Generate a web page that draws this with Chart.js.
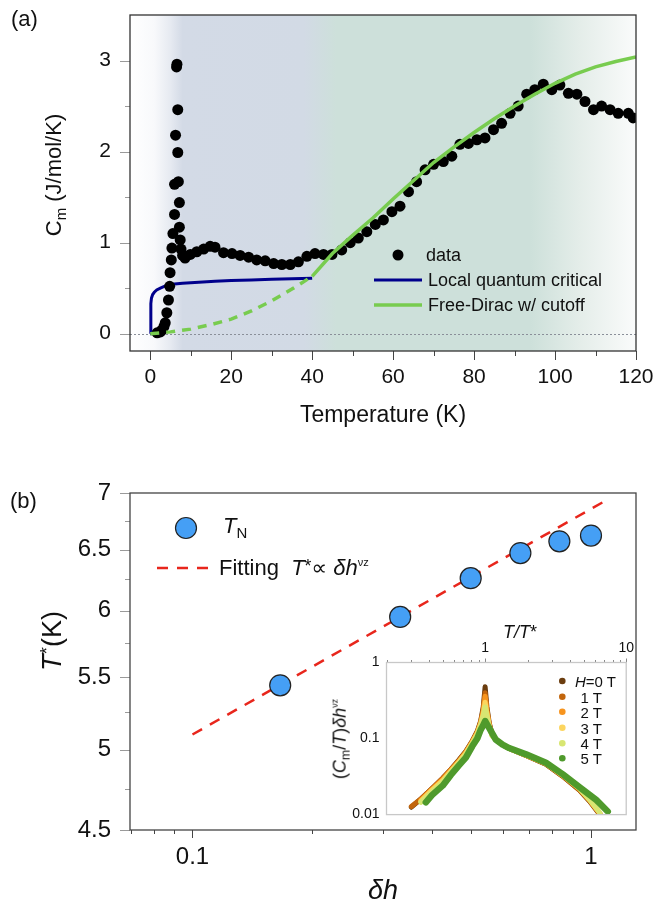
<!DOCTYPE html>
<html>
<head>
<meta charset="utf-8">
<script src="https://cdn.jsdelivr.net/npm/chart.js@4.4.1/dist/chart.umd.min.js"></script>
<style>
  body { margin: 0; background: #fff; width: 666px; height: 901px; position: relative; overflow: hidden;
         font-family: 'Liberation Sans', Arial, 'DejaVu Sans', sans-serif; color: #111; }
  canvas { position: absolute; }
  .t { position: absolute; white-space: nowrap; line-height: 1; }
  .c { transform: translate(-50%, -50%); }
  .l { transform: translateY(-50%); }
  .rot { transform: translate(-50%, -50%) rotate(-90deg); }
  .sub { font-size: 0.68em; vertical-align: -0.28em; }
  .sup { font-size: 0.5em; vertical-align: 0.9em; }
</style>
</head>
<body>
<canvas id="ca" width="666" height="430" style="left:0;top:0;width:666px;height:430px"></canvas>
<canvas id="cb" width="666" height="461" style="left:0;top:440px;width:666px;height:461px"></canvas>
<canvas id="ci" width="320" height="230" style="left:320px;top:600px;width:320px;height:230px"></canvas>

<!-- panel labels, axis titles, legend texts -->
<div class="t" style="left:11px;top:8px;font-size:22px">(a)</div>
<div class="t rot" style="left:56px;top:175px;font-size:22px">C<span class="sub">m</span> (J/mol/K)</div>
<div class="t c" style="left:383px;top:414px;font-size:23px">Temperature (K)</div>
<div class="t l" style="left:426px;top:255px;font-size:18px">data</div>
<div class="t l" style="left:428px;top:280px;font-size:18px">Local quantum critical</div>
<div class="t l" style="left:428px;top:305px;font-size:18px">Free-Dirac w/ cutoff</div>

<div class="t" style="left:10px;top:490px;font-size:22px">(b)</div>
<div class="t rot" style="left:52px;top:641px;font-size:27px"><i>T</i><span class="sup" style="font-size:0.7em;vertical-align:0.45em">*</span>(K)</div>
<div class="t c" style="left:383px;top:890px;font-size:27px"><i>δh</i></div>
<div class="t l" style="left:223px;top:528px;font-size:22px"><i>T</i><span class="sub">N</span></div>
<div class="t l" style="left:219px;top:568px;font-size:22px">Fitting&nbsp;&nbsp;<i>T</i><span style="font-size:0.8em;vertical-align:0.2em">*</span>∝ <i>δh</i><span class="sup">νz</span></div>

<div class="t c" style="left:520px;top:632px;font-size:18px"><i>T/T</i>*</div>
<div class="t rot" style="left:341px;top:739px;font-size:18px">(<i>C</i><span class="sub">m</span>/<i>T</i>)<i>δh</i><span class="sup">νz</span></div>
<div class="t l" style="left:575px;top:681px;font-size:15px"><i>H</i>=0 T</div>
<div class="t l" style="right:64px;top:697px;font-size:15px">1 T</div>
<div class="t l" style="right:64px;top:712px;font-size:15px">2 T</div>
<div class="t l" style="right:64px;top:728px;font-size:15px">3 T</div>
<div class="t l" style="right:64px;top:743px;font-size:15px">4 T</div>
<div class="t l" style="right:64px;top:758px;font-size:15px">5 T</div>

<script>
// ---------- panel (a): magnetic specific heat ----------
const tempK = [1.7, 2.5, 2.9, 3.4, 3.7, 4.1, 4.5, 4.8, 4.9, 5.2, 5.35, 5.6, 6.0, 6.0, 6.25, 6.5, 6.6,
  6.8, 6.8, 6.95, 7.2, 7.2, 7.4, 7.6, 8.0, 8.6, 9.9, 11.5, 13.2, 14.8, 16.0, 18.1, 20.2, 22.2, 24.3,
  26.3, 28.4, 30.5, 32.5, 34.6, 36.6, 38.7, 40.7, 42.8, 44.9, 47.3, 49.4, 51.4, 53.5, 55.6, 57.6,
  59.7, 61.7, 63.8, 65.8, 67.9, 70.0, 72.4, 74.5, 76.5, 78.6, 80.7, 82.7, 84.8, 86.8, 88.9, 90.9,
  93.0, 95.0, 97.1, 99.2, 101.2, 103.3, 105.4, 107.4, 109.5, 111.5, 113.6, 115.6, 118.1, 119.3];
const cmData = [0.01, 0.02, 0.04, 0.08, 0.12, 0.23, 0.37, 0.52, 0.67, 0.81, 0.94, 1.10, 1.31, 1.64,
  2.18, 2.93, 2.96, 2.46, 1.99, 1.67, 1.44, 1.17, 1.03, 0.93, 0.86, 0.83, 0.87, 0.90, 0.93, 0.96,
  0.95, 0.89, 0.88, 0.86, 0.84, 0.81, 0.80, 0.77, 0.76, 0.76, 0.79, 0.85, 0.88, 0.87, 0.87, 0.92,
  1.00, 1.05, 1.12, 1.20, 1.25, 1.34, 1.40, 1.56, 1.67, 1.80, 1.86, 1.89, 1.95, 2.08, 2.09, 2.13,
  2.15, 2.24, 2.31, 2.42, 2.50, 2.63, 2.68, 2.74, 2.68, 2.73, 2.64, 2.63, 2.55, 2.46, 2.50, 2.46,
  2.42, 2.42, 2.37];

const lqcT = [0, 0.15, 0.3, 0.6, 1, 1.6, 2.5, 4, 6, 8, 12, 16, 20, 25, 30, 35, 40];
const lqcC = [0, 0.33, 0.39, 0.43, 0.455, 0.48, 0.50, 0.53, 0.545, 0.555, 0.565, 0.575, 0.585, 0.59, 0.597, 0.603, 0.61];

const diracLowT = [0, 5, 10, 15, 20, 25, 30, 35, 40];
const diracLowC = [0, 0.02, 0.05, 0.10, 0.16, 0.25, 0.36, 0.49, 0.63];
const diracT = [40, 45, 50, 55, 60, 65, 70, 75, 80, 85, 90, 95, 100, 105, 110, 115, 120];
const diracC = [0.63, 0.88, 1.08, 1.27, 1.48, 1.68, 1.88, 2.05, 2.21, 2.36, 2.50, 2.63, 2.75, 2.85, 2.93, 2.99, 3.04];

const aXTicks = [0, 20, 40, 60, 80, 100, 120];
const aXMinor = [10, 30, 50, 70, 90, 110];
const aYTicks = [0, 1, 2, 3];
const aYMinor = [0.5, 1.5, 2.5];

// ---------- panel (b): T* vs delta h ----------
const deltaH = [0.166, 0.332, 0.499, 0.665, 0.833, 1.0];
const tStar = [5.44, 5.95, 6.26, 6.47, 6.57, 6.62];
const fitDh = [0.1, 1.1];
const fitT = [5.10, 6.94];

const bXTicks = [0.1, 1];
const bXMinor = [0.07, 0.08, 0.09, 0.2, 0.3, 0.4, 0.5, 0.6, 0.7, 0.8, 0.9];
const bYTicks = [4.5, 5, 5.5, 6, 6.5, 7];
const bYMinor = [4.75, 5.25, 5.75, 6.25, 6.75];

// ---------- inset: scaled C/T vs T/T* ----------
const insetX = [0.30, 0.35, 0.42, 0.50, 0.57, 0.65, 0.73, 0.81, 0.88, 0.93, 0.97, 1.0, 1.03, 1.07,
  1.12, 1.19, 1.33, 1.48, 1.95, 2.7, 3.54, 4.66, 5.5, 6.5];
const h0T = [0.0125, 0.016, 0.022, 0.030, 0.039, 0.052, 0.068, 0.093, 0.125, 0.17, 0.26, 0.48, 0.26,
  0.16, 0.115, 0.097, 0.083, 0.074, 0.060, 0.046, 0.032, 0.021, 0.0150, 0.0100];
const h1T = [0.0128, 0.016, 0.022, 0.030, 0.039, 0.051, 0.067, 0.091, 0.122, 0.165, 0.24, 0.40, 0.24,
  0.155, 0.113, 0.097, 0.083, 0.074, 0.060, 0.046, 0.032, 0.021, 0.0152, 0.0102];
const h2T = [null, 0.0155, 0.0215, 0.029, 0.038, 0.050, 0.066, 0.090, 0.12, 0.16, 0.23, 0.36, 0.23,
  0.15, 0.112, 0.097, 0.083, 0.074, 0.060, 0.047, 0.033, 0.022, 0.0155, 0.0103];
const h3T = [null, 0.0150, 0.021, 0.028, 0.037, 0.049, 0.064, 0.088, 0.117, 0.155, 0.21, 0.30, 0.21,
  0.145, 0.11, 0.097, 0.083, 0.074, 0.061, 0.047, 0.033, 0.022, 0.0157, 0.0105];
const h4T = [null, 0.0145, 0.020, 0.027, 0.036, 0.047, 0.062, 0.085, 0.113, 0.15, 0.20, 0.26, 0.20,
  0.14, 0.108, 0.097, 0.083, 0.074, 0.061, 0.047, 0.033, 0.022, 0.0158, 0.0106];
const h5X = [0.38, 0.42, 0.50, 0.57, 0.65, 0.73, 0.81, 0.88, 0.93, 0.97, 1.0, 1.03, 1.07, 1.19, 1.33,
  1.48, 1.95, 2.7, 3.54, 4.66, 6.13, 7.4];
const h5T = [0.0145, 0.018, 0.024, 0.033, 0.044, 0.056, 0.079, 0.10, 0.13, 0.15, 0.17, 0.155, 0.137,
  0.097, 0.083, 0.075, 0.062, 0.048, 0.034, 0.023, 0.0156, 0.011];

const insetXTicks = [1, 10];
const insetXMinor = [0.2, 0.3, 0.4, 0.5, 0.6, 0.7, 0.8, 0.9, 2, 3, 4, 5, 6, 7, 8, 9];
const insetYTicks = [0.01, 0.1, 1];
const fieldColors = ['#6b3d0f', '#c2650c', '#f7941e', '#fcd55f', '#d8e672', '#4f9a2c'];

// ---------- helpers ----------
const FONT = "'Liberation Sans', Arial, 'DejaVu Sans', sans-serif";
Chart.defaults.font.family = FONT;
Chart.defaults.color = '#111';

const xy = (xs, ys) => xs.map((x, i) => ({ x, y: ys[i] }));
const setTicks = vals => s => { s.ticks = vals.map(v => ({ value: v })); };
// invisible tick marks: they only push the labels away from the axis
const hiddenTicks = len => ({ display: true, drawOnChartArea: false, drawTicks: true, tickLength: len,
  tickColor: 'rgba(0,0,0,0)' });

// draws outside tick marks + a frame around the plot area
function axisDecor(id, specs, frameColor) {
  return {
    id,
    afterDraw(chart) {
      const { ctx, chartArea: a, scales } = chart;
      ctx.save();
      ctx.lineWidth = 1;
      specs.forEach(t => {
        const s = scales[t.axis];
        ctx.strokeStyle = t.color;
        t.values.forEach(v => {
          const p = Math.round(s.getPixelForValue(v)) + 0.5;
          ctx.beginPath();
          if (t.side === 'bottom') { ctx.moveTo(p, a.bottom); ctx.lineTo(p, a.bottom + t.len); }
          else if (t.side === 'top') { ctx.moveTo(p, a.top); ctx.lineTo(p, a.top - t.len); }
          else { ctx.moveTo(a.left, p); ctx.lineTo(a.left - t.len, p); }
          ctx.stroke();
        });
      });
      ctx.strokeStyle = frameColor;
      ctx.lineWidth = 1.3;
      ctx.strokeRect(a.left, a.top, a.right - a.left, a.bottom - a.top);
      ctx.restore();
    }
  };
}

// ---------- chart (a) ----------
const panelA = {
  id: 'panelA',
  beforeDatasetsDraw(chart) {
    const { ctx, chartArea: a, scales: { x, y } } = chart;
    ctx.save();
    const g = ctx.createLinearGradient(a.left, 0, a.right, 0);
    [[-5, '#ffffff'], [1, '#f8f9fb'], [5, '#e6eaf1'], [8, '#d3dae6'], [38, '#d2dae5'],
     [46, '#cde0da'], [94, '#cde0da'], [106, '#e4ede9'], [120, '#fafbfb']]
      .forEach(([t, c]) => g.addColorStop((x.getPixelForValue(t) - a.left) / (a.right - a.left), c));
    ctx.fillStyle = g;
    ctx.fillRect(a.left, a.top, a.right - a.left, a.bottom - a.top);
    // dotted zero line
    const y0 = Math.round(y.getPixelForValue(0)) + 0.5;
    ctx.strokeStyle = '#8a8f99';
    ctx.lineWidth = 1;
    ctx.setLineDash([2, 2]);
    ctx.beginPath(); ctx.moveTo(a.left, y0); ctx.lineTo(a.right, y0); ctx.stroke();
    ctx.restore();
  },
  afterDraw(chart) {
    const ctx = chart.ctx;
    ctx.save();
    ctx.fillStyle = '#000';
    ctx.beginPath(); ctx.arc(398, 255, 5.5, 0, Math.PI * 2); ctx.fill();
    ctx.lineWidth = 3;
    ctx.strokeStyle = '#00008c';
    ctx.beginPath(); ctx.moveTo(374, 280); ctx.lineTo(422, 280); ctx.stroke();
    ctx.lineWidth = 3.5;
    ctx.strokeStyle = '#78cc4f';
    ctx.beginPath(); ctx.moveTo(374, 305); ctx.lineTo(422, 305); ctx.stroke();
    ctx.restore();
  }
};

new Chart(document.getElementById('ca'), {
  type: 'scatter',
  data: {
    datasets: [
      { label: 'Free-Dirac w/ cutoff', data: xy(diracT, diracC), showLine: true, borderColor: '#78cc4f',
        borderWidth: 3.5, pointRadius: 0, order: 0 },
      { label: 'Free-Dirac (below 40 K)', data: xy(diracLowT, diracLowC), showLine: true, borderColor: '#78cc4f',
        borderWidth: 3.5, borderDash: [9, 7], pointRadius: 0, order: 1 },
      { label: 'data', data: xy(tempK, cmData), pointRadius: 5.5, pointBackgroundColor: '#000',
        pointBorderWidth: 0, order: 2 },
      { label: 'Local quantum critical', data: xy(lqcT, lqcC), showLine: true, borderColor: '#00008c',
        borderWidth: 3, pointRadius: 0, order: 3 }
    ]
  },
  options: {
    responsive: false,
    animation: false,
    events: [],
    layout: { padding: { left: 0, top: 15, right: 30, bottom: 0 } },
    plugins: { legend: { display: false }, tooltip: { enabled: false } },
    scales: {
      x: {
        type: 'linear', min: -5, max: 120,
        afterFit: s => { s.height = 79; },
        afterBuildTicks: setTicks(aXTicks),
        grid: hiddenTicks(10), border: { display: false },
        ticks: { padding: 4, font: { size: 21 }, color: '#111', maxRotation: 0, autoSkip: false }
      },
      y: {
        type: 'linear', min: -0.19, max: 3.5,
        afterFit: s => { s.width = 130; },
        afterBuildTicks: setTicks(aYTicks),
        grid: hiddenTicks(17), border: { display: false },
        ticks: { padding: 2, font: { size: 21 }, color: '#111', autoSkip: false }
      }
    }
  },
  plugins: [panelA, axisDecor('decorA', [
    { axis: 'x', side: 'bottom', values: aXTicks, len: 9, color: '#444' },
    { axis: 'x', side: 'bottom', values: aXMinor, len: 5, color: '#444' },
    { axis: 'y', side: 'left', values: aYTicks, len: 10, color: '#9a9a9a' },
    { axis: 'y', side: 'left', values: aYMinor, len: 5, color: '#9a9a9a' }
  ], '#333')]
});

// ---------- chart (b) ----------
const legendB = {
  id: 'legendB',
  afterDraw(chart) {
    const ctx = chart.ctx;
    ctx.save();
    ctx.fillStyle = '#459ff5';
    ctx.strokeStyle = '#222';
    ctx.lineWidth = 1.2;
    ctx.beginPath(); ctx.arc(186, 88, 10.5, 0, Math.PI * 2); ctx.fill(); ctx.stroke();
    ctx.strokeStyle = '#e8261c';
    ctx.lineWidth = 2.5;
    ctx.setLineDash([11, 9]);
    ctx.beginPath(); ctx.moveTo(157, 128); ctx.lineTo(214, 128); ctx.stroke();
    ctx.restore();
  }
};

new Chart(document.getElementById('cb'), {
  type: 'scatter',
  data: {
    datasets: [
      { label: 'T_N', data: xy(deltaH, tStar), pointRadius: 10.5, pointBackgroundColor: '#459ff5',
        pointBorderColor: '#222', pointBorderWidth: 1.2, order: 0 },
      { label: 'Fitting', data: xy(fitDh, fitT), showLine: true, borderColor: '#e8261c', borderWidth: 2.5,
        borderDash: [11, 9], pointRadius: 0, order: 1 }
    ]
  },
  options: {
    responsive: false,
    animation: false,
    events: [],
    layout: { padding: { left: 0, top: 53, right: 30, bottom: 0 } },
    plugins: { legend: { display: false }, tooltip: { enabled: false } },
    scales: {
      x: {
        type: 'logarithmic', min: 0.0697, max: 1.297,
        afterFit: s => { s.height = 71; },
        afterBuildTicks: setTicks(bXTicks),
        grid: hiddenTicks(10), border: { display: false },
        ticks: { padding: 3, font: { size: 24 }, color: '#111', maxRotation: 0, autoSkip: false,
                 callback: v => String(v) }
      },
      y: {
        type: 'logarithmic', min: 4.5, max: 7,
        afterFit: s => { s.width = 130; },
        afterBuildTicks: setTicks(bYTicks),
        grid: hiddenTicks(17), border: { display: false },
        ticks: { padding: 2, font: { size: 24 }, color: '#111', autoSkip: false, callback: v => String(v) }
      }
    }
  },
  plugins: [legendB, axisDecor('decorB', [
    { axis: 'x', side: 'bottom', values: bXTicks, len: 8, color: '#444' },
    { axis: 'x', side: 'bottom', values: bXMinor, len: 4, color: '#444' },
    { axis: 'y', side: 'left', values: bYTicks, len: 10, color: '#9a9a9a' },
    { axis: 'y', side: 'left', values: bYMinor, len: 5, color: '#9a9a9a' }
  ], '#444')]
});

// ---------- inset ----------
const insetDecor = {
  id: 'insetDecor',
  beforeDatasetsDraw(chart) {
    const { ctx, chartArea: a } = chart;
    ctx.save();
    ctx.fillStyle = '#fff';
    ctx.fillRect(a.left, a.top, a.right - a.left, a.bottom - a.top);
    ctx.restore();
  },
  afterDraw(chart) {
    const ctx = chart.ctx;
    ctx.save();
    [81, 96.7, 111.7, 127.7, 143.3, 158.3].forEach((y, i) => {
      ctx.fillStyle = fieldColors[i];
      ctx.beginPath(); ctx.arc(242.3, y, 3.3, 0, Math.PI * 2); ctx.fill();
    });
    ctx.restore();
  }
};

const insetSeries = [h0T, h1T, h2T, h3T, h4T];
new Chart(document.getElementById('ci'), {
  type: 'scatter',
  data: {
    datasets: [
      { label: '5 T', data: xy(h5X, h5T), showLine: true, borderColor: fieldColors[5], borderWidth: 6.5,
        borderCapStyle: 'round', borderJoinStyle: 'round', pointRadius: 0, order: 0 }
    ].concat(insetSeries.map((ys, i) => ({
      label: i + ' T', data: xy(insetX, ys), showLine: true, borderColor: fieldColors[i], borderWidth: 5,
      borderCapStyle: 'round', borderJoinStyle: 'round', pointRadius: 0, order: 5 - i
    })))
  },
  options: {
    responsive: false,
    animation: false,
    events: [],
    layout: { padding: { left: 0, top: 0, right: 13.5, bottom: 11.5 } },
    plugins: { legend: { display: false }, tooltip: { enabled: false } },
    scales: {
      x: {
        type: 'logarithmic', position: 'top', min: 0.2, max: 10,
        afterFit: s => { s.height = 62.5; },
        afterBuildTicks: setTicks(insetXTicks),
        grid: { display: false, drawTicks: false }, border: { display: false },
        ticks: { padding: 6, font: { size: 14 }, color: '#111', maxRotation: 0, autoSkip: false,
                 callback: v => String(v) }
      },
      y: {
        type: 'logarithmic', min: 0.01, max: 1,
        afterFit: s => { s.width = 66.5; },
        afterBuildTicks: setTicks(insetYTicks),
        grid: { display: false, drawTicks: false }, border: { display: false },
        ticks: { padding: 7, font: { size: 14 }, color: '#111', autoSkip: false, callback: v => String(v) }
      }
    }
  },
  plugins: [insetDecor, axisDecor('decorI', [
    { axis: 'x', side: 'top', values: insetXTicks, len: 4, color: '#888' },
    { axis: 'x', side: 'top', values: insetXMinor, len: 2.5, color: '#888' }
  ], '#c8c8c8')]
});
</script>
</body>
</html>
